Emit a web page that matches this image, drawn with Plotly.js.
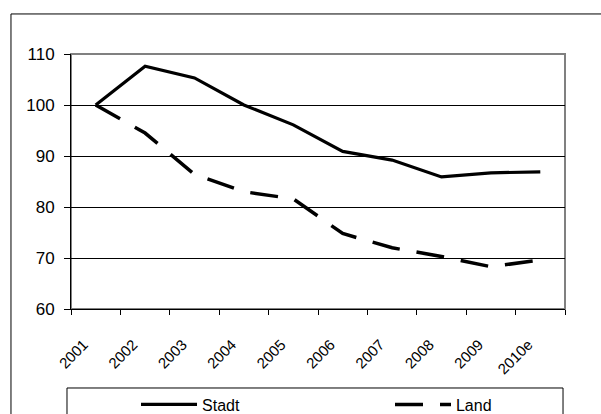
<!DOCTYPE html>
<html>
<head>
<meta charset="utf-8">
<script src="https://cdn.plot.ly/plotly-3.0.1.min.js"></script>
<style>
  html, body { margin: 0; padding: 0; background: #fff; }
  #chart { width: 601px; height: 414px; }
</style>
</head>
<body>
<div id="chart"></div>
<script>
const years = ["2001", "2002", "2003", "2004", "2005", "2006", "2007", "2008", "2009", "2010e"];
const stadt = [100, 107.6, 105.3, 100.0, 96.1, 90.9, 89.2, 85.9, 86.7, 86.9];
const land  = [100, 94.5, 86.4, 83.0, 81.6, 74.8, 72.0, 70.3, 68.3, 69.6];
const seriesNames = ["Stadt", "Land"];
const yTicks = [60, 70, 80, 90, 100, 110];

const font = "Liberation Sans, Arial, sans-serif";

const traces = [
  {
    x: years, y: stadt, name: seriesNames[0], type: "scatter", mode: "lines",
    line: { color: "#000", width: 3.2 }, legend: "legend"
  },
  {
    x: years, y: land, name: seriesNames[1], type: "scatter", mode: "lines",
    line: { color: "#000", width: 3.5, dash: "28px,17px" }, legend: "legend2"
  }
];

const legendCommon = {
  orientation: "h", xanchor: "left", yanchor: "top",
  bgcolor: "rgba(0,0,0,0)", borderwidth: 0, itemwidth: 56,
  font: { family: font, size: 16, color: "#000" }
};

const layout = {
  width: 601, height: 414,
  paper_bgcolor: "#fff", plot_bgcolor: "#fff",
  margin: { l: 71, r: 36, t: 54, b: 105, autoexpand: false },
  font: { family: font, size: 16, color: "#000" },
  showlegend: true,
  legend: Object.assign({}, legendCommon, { x: 0.1316, y: -0.308 }),
  legend2: Object.assign({}, legendCommon, { x: 0.6457, y: -0.308 }),
  xaxis: {
    type: "category", tickson: "boundaries", range: [-0.5, years.length - 0.5],
    showgrid: false, zeroline: false,
    showline: true, linecolor: "#000", linewidth: 1,
    ticks: "outside", ticklen: 5, tickcolor: "#000", tickwidth: 1,
    tickangle: -45, ticklabelstandoff: 20, ticklabelshift: -12,
    tickfont: { family: font, size: 15, color: "#000" },
    automargin: false, fixedrange: true
  },
  yaxis: {
    range: [60, 110], tickvals: yTicks,
    showgrid: true, gridcolor: "#000", gridwidth: 1,
    zeroline: false,
    showline: true, linecolor: "#000", linewidth: 1,
    ticks: "outside", ticklen: 6, tickcolor: "#000", tickwidth: 1,
    ticklabelstandoff: 6,
    tickfont: { family: font, size: 17, color: "#000" },
    automargin: false, fixedrange: true
  },
  shapes: [
    { type: "rect", xref: "paper", yref: "paper", x0: 0, x1: 1, y0: 0, y1: 1,
      line: { color: "#808080", width: 2 }, layer: "below" },
    { type: "rect", xref: "paper", yref: "paper", x0: -0.1215, x1: 1.08, y0: -0.45, y1: 1.157,
      line: { color: "#000", width: 1 } },
    { type: "rect", xref: "paper", yref: "paper", x0: -0.0081, x1: 0.996, y0: -0.45, y1: -0.3098,
      line: { color: "#000", width: 1 } }
  ]
};

Plotly.newPlot("chart", traces, layout, { staticPlot: true, displayModeBar: false });
</script>
</body>
</html>
